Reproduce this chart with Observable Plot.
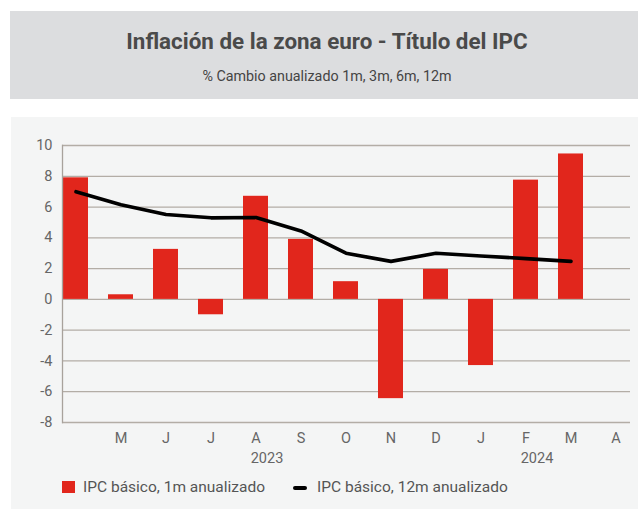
<!DOCTYPE html>
<html>
<head>
<meta charset="utf-8">
<script src="https://cdn.jsdelivr.net/npm/d3@7"></script>
<script src="https://cdn.jsdelivr.net/npm/@observablehq/plot@0.6"></script>
<style>
  html, body { margin: 0; padding: 0; background: #ffffff; }
  body { width: 638px; height: 509px; position: relative; overflow: hidden; font-family: Roboto, "Noto Sans", sans-serif; }
  #header { position: absolute; left: 10px; top: 11px; width: 628px; height: 88px; background: #dcdddf; }
  #title { position: absolute; left: 0; width: 634px; top: 17px; text-align: center; font-size: 22.4px; font-weight: 700; color: #4a4a4a; line-height: 26px; }
  #subtitle { position: absolute; left: 0; width: 634px; top: 55px; text-align: center; font-size: 14.3px; color: #444; line-height: 20px; }
  #panel { position: absolute; left: 11px; top: 117px; width: 627px; height: 392px; background: #f4f5f5; }
  #chart { position: absolute; left: 0; top: 117px; }
  #legend { position: absolute; left: 62px; top: 477px; font-size: 15.5px; color: #555; line-height: 20px; }
  .item { position: absolute; white-space: nowrap; top: 0; }
  .sw-bar { position: absolute; width: 13px; height: 12px; background: #e1261c; top: 4px; left: 0; }
  .sw-line { position: absolute; width: 14px; height: 4px; background: #000; top: 9px; left: 0; border-radius: 2px; }
</style>
</head>
<body>
<div id="header">
  <div id="title">Inflación de la zona euro - Título del IPC</div>
  <div id="subtitle">% Cambio anualizado 1m, 3m, 6m, 12m</div>
</div>
<div id="panel"></div>
<div id="chart"></div>
<div id="legend"></div>
<script>
// ---- data ----
const months = ["2023-04","2023-05","2023-06","2023-07","2023-08","2023-09","2023-10","2023-11","2023-12","2024-01","2024-02","2024-03","2024-04"];
const monthLabels = ["", "M", "J", "J", "A", "S", "O", "N", "D", "J", "F", "M", "A"];
const cpi1m = [7.9, 0.3, 3.25, -1.0, 6.7, 3.9, 1.15, -6.45, 1.95, -4.3, 7.75, 9.45, null];
const cpi12m = [7.0, 6.15, 5.52, 5.3, 5.32, 4.45, 3.0, 2.47, 3.0, 2.82, 2.65, 2.47, null];
const yTicks = [-8, -6, -4, -2, 0, 2, 4, 6, 8, 10];
const years = ["2023", "2024"];
const yearAnchorMonths = ["2023-08", "2024-02"];
const seriesNames = ["IPC básico, 1m anualizado", "IPC básico, 12m anualizado"];

const barData = months.map((m, i) => ({month: m, value: cpi1m[i]})).filter(d => d.value != null);
const lineData = months.map((m, i) => ({month: m, value: cpi12m[i]})).filter(d => d.value != null);
const yearData = years.map((y, i) => ({month: yearAnchorMonths[i], year: y}));
const labelOf = new Map(months.map((m, i) => [m, monthLabels[i]]));

const W = 638, H = 355;
const chart = Plot.plot({
  width: W,
  height: H,
  marginLeft: 62,
  marginRight: 8,
  marginTop: 28,
  marginBottom: 50,
  style: { background: "transparent", fontFamily: "Roboto, 'Noto Sans', sans-serif", overflow: "visible" },
  x: { type: "band", domain: months, range: [62, 628], paddingInner: 0.446, paddingOuter: 0, axis: null },
  y: { domain: [-8, 10], axis: null },
  marks: [
    Plot.gridY(yTicks, { stroke: "#b3ada6", strokeOpacity: 1, strokeWidth: 1.3 }),
    Plot.barY(barData, { x: "month", y: "value", fill: "#e1261c" }),
    Plot.line(lineData, { x: "month", y: "value", stroke: "#000", strokeWidth: 3.6, strokeLinejoin: "round", strokeLinecap: "round" }),
    Plot.frame({ anchor: "left", stroke: "#a8a29c", strokeWidth: 1.3 }),
    Plot.axisY(yTicks, { tickSize: 0, tickPadding: 10, fontSize: 14.5, fill: "#666", label: null, tickFormat: d => String(d) }),
    Plot.axisX({ tickSize: 0, tickPadding: 10, fontSize: 14.5, fill: "#666", label: null, tickFormat: d => labelOf.get(d) }),
    Plot.text(yearData, { x: "month", text: "year", frameAnchor: "bottom", dy: 40, dx: 11, fontSize: 14.5, fill: "#666" })
  ]
});
document.getElementById("chart").appendChild(chart);

// legend
const legend = document.getElementById("legend");
legend.innerHTML =
  `<div class="item" style="left:0"><span class="sw-bar"></span><span style="margin-left:21px">${seriesNames[0]}</span></div>` +
  `<div class="item" style="left:231px"><span class="sw-line"></span><span style="margin-left:24px">${seriesNames[1]}</span></div>`;
</script>
</body>
</html>
